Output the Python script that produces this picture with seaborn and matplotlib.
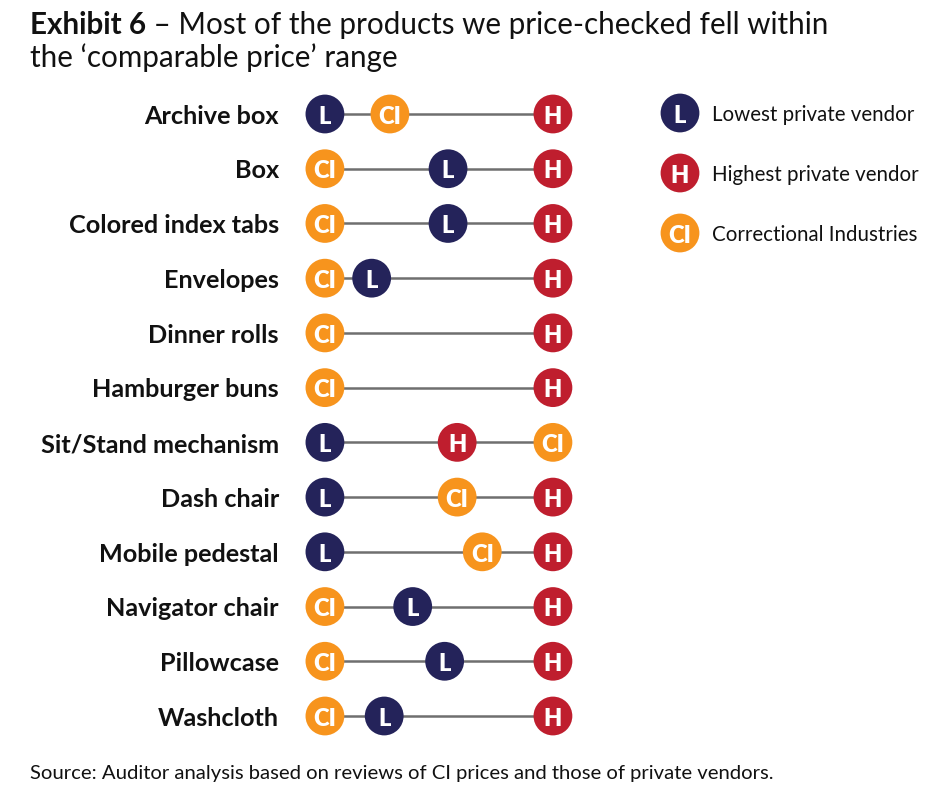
import numpy as np
import pandas as pd
import matplotlib.pyplot as plt
import seaborn as sns

# Products price-checked, top to bottom
products = ['Archive box', 'Box', 'Colored index tabs', 'Envelopes', 'Dinner rolls',
            'Hamburger buns', 'Sit/Stand mechanism', 'Dash chair', 'Mobile pedestal',
            'Navigator chair', 'Pillowcase', 'Washcloth']

# Relative position of each price within the product's price range (0 = lowest, 100 = highest)
lowest_vendor = [0, 54, 54, 20.5, 0, 0, 0, 0, 0, 38.5, 52.5, 26]
highest_vendor = [100, 100, 100, 100, 100, 100, 58, 100, 100, 100, 100, 100]
correctional = [28.5, 0, 0, 0, 0, 0, 100, 58, 69, 0, 0, 0]

legend_keys = ['L', 'H', 'CI']
legend_labels = ['Lowest private vendor', 'Highest private vendor', 'Correctional Industries']
colors = {'L': '#24235a', 'H': '#bf1e2e', 'CI': '#f7941d'}

W, H = 936, 797
DOT = 780


def main():
    sns.set_theme(style="white")
    plt.rcParams['font.family'] = ['Lato', 'DejaVu Sans']

    # long table, CI last so it sits on top where prices coincide
    df = pd.concat([
        pd.DataFrame({'row': np.arange(len(products)), 'pos': lowest_vendor, 'key': 'L'}),
        pd.DataFrame({'row': np.arange(len(products)), 'pos': highest_vendor, 'key': 'H'}),
        pd.DataFrame({'row': np.arange(len(products)), 'pos': correctional, 'key': 'CI'}),
    ], ignore_index=True)
    # where two prices coincide only the CI dot is seen
    shown = df.drop_duplicates(subset=['row', 'pos'], keep='last')

    fig = plt.figure(figsize=(W / 100, H / 100), dpi=100)
    ax = fig.add_axes([0, 0, 1, 1])

    # range line for each product
    rng = df.groupby('row')['pos'].agg(['min', 'max'])
    ax.hlines(rng.index, rng['min'], rng['max'], color='#6f6f6f', lw=1.8, zorder=1)

    sns.scatterplot(data=shown, x='pos', y='row', hue='key', palette=colors, s=DOT,
                    linewidth=0, legend=False, ax=ax, zorder=2)
    for _, r in shown.iterrows():
        ax.text(r['pos'], r['row'] + 0.05, r['key'], color='white', ha='center', va='center',
                fontsize=17, fontweight='heavy', zorder=3)

    for i, name in enumerate(products):
        ax.text(-20.2, i + 0.04, name, ha='right', va='center', fontsize=18.2,
                fontweight='bold', color='#111111')

    ax.set_xlim(-142.5, 268)
    ax.set_ylim(12.48, -2.083)
    ax.axis('off')

    # legend with lettered markers
    lax = fig.add_axes([650 / W, 1 - 263 / H, 286 / W, 180 / H])
    leg = pd.DataFrame({'x': 30, 'y': np.arange(len(legend_keys)) + 0.5, 'key': legend_keys})
    sns.scatterplot(data=leg, x='x', y='y', hue='key', palette=colors, s=DOT,
                    linewidth=0, legend=False, ax=lax)
    for _, r in leg.iterrows():
        lax.text(r['x'], r['y'] + 0.05, r['key'], color='white', ha='center', va='center',
                 fontsize=17, fontweight='heavy')
    for y, lab in zip(leg['y'], legend_labels):
        lax.text(62, y + 0.03, lab, ha='left', va='center', fontsize=14.8, color='#111111')
    lax.set_xlim(0, 286)
    lax.set_ylim(3, 0)
    lax.axis('off')

    # title and source
    t1 = fig.text(30 / W, 1 - 34 / H, 'Exhibit 6', fontsize=21.3, fontweight='bold',
                  va='baseline', color='#111111')
    ax.annotate(' \u2013 Most of the products we price-checked fell within', xy=(1, 0),
                xycoords=t1, va='bottom', ha='left', fontsize=21.3, color='#111111')
    fig.text(30 / W, 1 - 67 / H, 'the \u2018comparable price\u2019 range', fontsize=21.3,
             va='baseline', color='#111111')
    fig.text(30 / W, 1 - 779 / H,
             'Source: Auditor analysis based on reviews of CI prices and those of private vendors.',
             fontsize=14.6, va='baseline', color='#111111')

    fig.savefig('out.png', dpi=100)


if __name__ == "__main__":
    main()
